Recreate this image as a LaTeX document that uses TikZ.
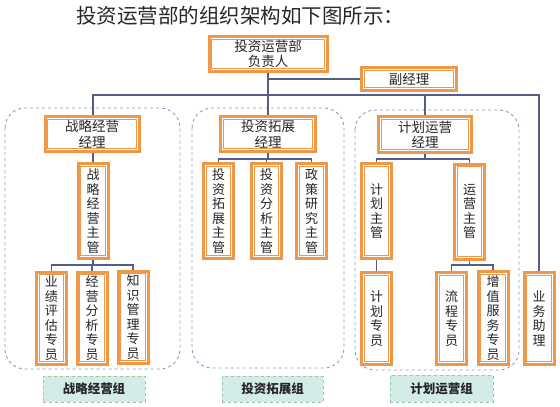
\documentclass[tikz,border=0pt]{standalone}
\usepackage{fontspec}
\setmainfont{Noto Sans CJK SC}
\definecolor{boxorange}{RGB}{240,152,72}
\definecolor{conn}{RGB}{85,92,140}
\definecolor{grpdash}{RGB}{140,155,195}
\definecolor{lblfill}{RGB}{212,236,232}
\definecolor{lbldraw}{RGB}{150,200,170}
\definecolor{titlegray}{RGB}{40,40,40}
\tikzset{
  obox/.style={draw=boxorange, line width=3pt, fill=white, inner sep=0pt, align=center,
    text=black!85,
    path picture={\draw[boxorange, line width=1pt]
      ([shift={(2.6pt,-2.6pt)}]path picture bounding box.north west) rectangle
      ([shift={(-2.6pt,2.6pt)}]path picture bounding box.south east);}},
  hbox/.style={obox, font=\fontsize{13.5}{15.5}\selectfont},
  vbox/.style={obox, font=\fontsize{13}{14.5}\selectfont, minimum width=30pt},
  conn/.style={draw=conn, line width=1.1pt},
  grp/.style={draw=grpdash, dashed, line width=0.9pt, rounded corners=20pt},
  lbl/.style={draw=lbldraw, dashed, fill=lblfill, line width=0.9pt, inner sep=0pt,
    font=\bfseries\fontsize{12.5}{14}\selectfont, text=black!85}
}
\begin{document}
\begin{tikzpicture}[x=1pt,y=-1pt]
\useasboundingbox (0,0) rectangle (560,407);
% title
\node[anchor=west, inner sep=0pt, text=titlegray, font=\fontsize{20.5}{24}\selectfont] (title) at (76,16) {投资运营部的组织架构如下图所示：};
% groups
\draw[grp] (5,108) rectangle (180,369);
\draw[grp] (192,108) rectangle (344,368);
\draw[grp] (355,110) rectangle (519,370);
% boxes
\node[hbox, minimum width=118pt, minimum height=35pt] (top) at (268,54) {投资运营部\\负责人};
\node[hbox, minimum width=95pt, minimum height=23pt] (fu) at (409,79) {副经理};
\node[hbox, minimum width=94pt, minimum height=35pt] (zl) at (92,134) {战略经营\\经理};
\node[hbox, minimum width=95pt, minimum height=35pt] (tz) at (268,134) {投资拓展\\经理};
\node[hbox, minimum width=93pt, minimum height=36pt] (jh) at (425,134.5) {计划运营\\经理};
\node[vbox, minimum height=95pt] (zlzg) at (93,211) {战\\略\\经\\营\\主\\管};
\node[vbox, minimum height=95pt] (tzzg) at (218.5,211) {投\\资\\拓\\展\\主\\管};
\node[vbox, minimum height=95pt] (fx) at (266.5,211) {投\\资\\分\\析\\主\\管};
\node[vbox, minimum height=95pt] (zc) at (311.5,211) {政\\策\\研\\究\\主\\管};
\node[vbox, minimum height=95pt] (jhzg) at (376.5,211) {计\\划\\主\\管};
\node[vbox, minimum height=95pt] (yyzg) at (469.5,211.5) {运\\营\\主\\管};
\node[vbox, minimum height=92pt] (yj) at (51.5,318) {业\\绩\\评\\估\\专\\员};
\node[vbox, minimum height=92pt] (jy) at (92,318) {经\\营\\分\\析\\专\\员};
\node[vbox, minimum height=92pt] (zs) at (133,317) {知\\识\\管\\理\\专\\员};
\node[vbox, minimum height=92pt] (jhzy) at (376.5,318.5) {计\\划\\专\\员};
\node[vbox, minimum height=92pt] (lc) at (451.5,318.5) {流\\程\\专\\员};
\node[vbox, minimum height=93pt] (zz) at (493,318) {增\\值\\服\\务\\专\\员};
\node[vbox, minimum height=92pt] (yw) at (539,318.5) {业\\务\\助\\理};
% connectors
\coordinate (b0) at (268,95);
\coordinate (b1) at (93,265);
\coordinate (b2) at (268,159);
\coordinate (b3) at (425,159);
\coordinate (b4) at (469.5,265);
\draw[conn] (top.south) -- (b0);
\draw[conn] (fu.west) -- (fu.west -| top.south);
\draw[conn] (zl.north -| b1) |- (b0);
\draw[conn] (yw.north) |- (b0);
\draw[conn] (jh.north) -- (jh.north |- b0);
\draw[conn] (tz.north) -- (b0);
\draw[conn] (zl.south -| zlzg.north) -- (zlzg.north);
\draw[conn] (zlzg.south) -- (b1);
\draw[conn] (yj.north) |- (b1);
\draw[conn] (zs.north) |- (b1);
\draw[conn] (jy.north) -- (jy.north |- b1);
\draw[conn] (tz.south) -- (b2);
\draw[conn] (tzzg.north) |- (b2);
\draw[conn] (zc.north) |- (b2);
\draw[conn] (fx.north) -- (fx.north |- b2);
\draw[conn] (jh.south) -- (b3);
\draw[conn] (jhzg.north) |- (b3);
\draw[conn] (yyzg.north) |- (b3);
\draw[conn] (jhzg.south) -- (jhzy.north);
\draw[conn] (yyzg.south) -- (b4);
\draw[conn] (lc.north) |- (b4);
\draw[conn] (zz.north) |- (b4);
% group labels
\node[lbl, minimum width=102pt, minimum height=26pt] (l1) at (94,389) {战略经营组};
\node[lbl, minimum width=101pt, minimum height=26pt] (l2) at (272.5,389) {投资拓展组};
\node[lbl, minimum width=103pt, minimum height=27pt] (l3) at (441.5,388.5) {计划运营组};
\end{tikzpicture}
\end{document}
